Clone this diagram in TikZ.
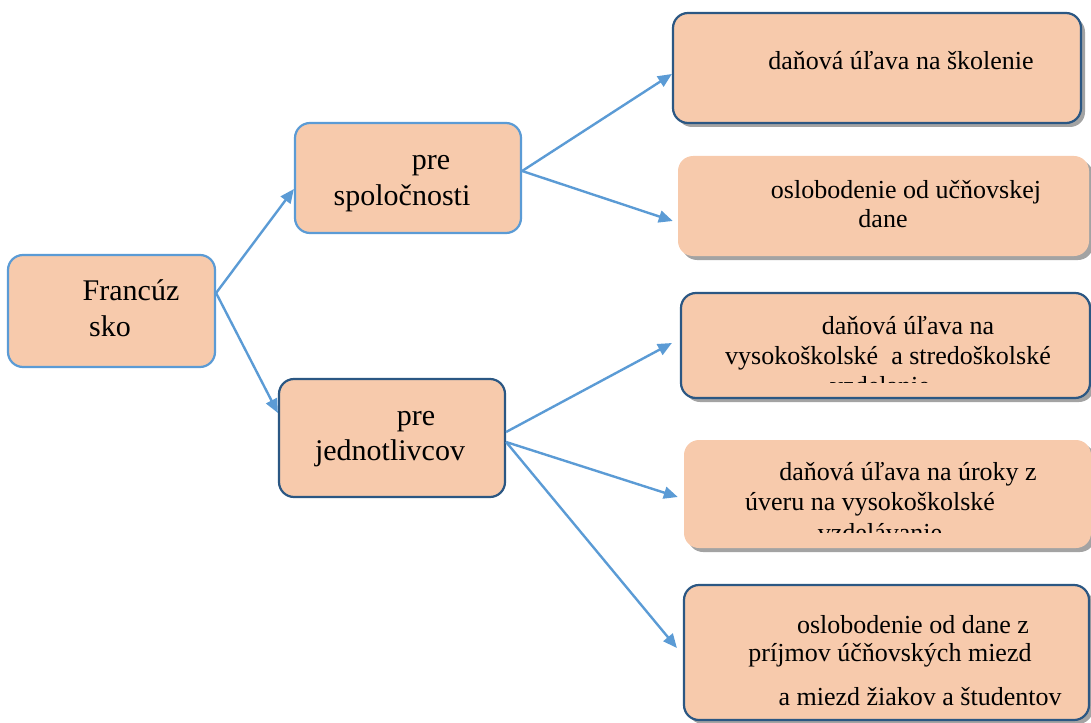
\documentclass[tikz,border=0pt]{standalone}
\usepackage{fontspec}
\setmainfont{Liberation Serif}
\usetikzlibrary{arrows.meta,shadows}
\definecolor{boxfill}{HTML}{F7CAAC}
\definecolor{lightedge}{HTML}{5B9BD5}
\definecolor{darkedge}{HTML}{2B5783}
\definecolor{arrowblue}{HTML}{5B9BD5}
\tikzset{
  box/.style={rectangle, rounded corners=15pt, fill=boxfill, inner sep=0pt},
  lightbox/.style={box, draw=lightedge, line width=2.2pt},
  darkbox/.style={box, draw=darkedge, line width=2.2pt},
  shadowed/.style={drop shadow={shadow xshift=4pt, shadow yshift=-4pt, fill=black!45, opacity=0.8}},
  bigtxt/.style={font=\fontsize{30}{36}\selectfont, inner sep=0pt, anchor=base},
  smalltxt/.style={font=\fontsize{26}{31}\selectfont, inner sep=0pt, anchor=base},
  conn/.style={draw=arrowblue, line width=2.4pt, -{Triangle[length=14pt,width=12pt]}},
}
\begin{document}
\begin{tikzpicture}[x=1pt,y=-1pt]
\useasboundingbox (0,0) rectangle (1091,722);

% left boxes
\node[lightbox, minimum width=207pt, minimum height=112pt] (f) at (111.5,311) {};
\node[lightbox, minimum width=226pt, minimum height=110pt] (ps) at (408,178) {};
\node[darkbox, minimum width=226pt, minimum height=118pt] (pj) at (392,438) {};

\node[bigtxt] (ft1) at (131,300) {Francúz};
\node[bigtxt] (ft2) at (110,336) {sko};
\node[bigtxt] (pst1) at (431,170) {pre};
\node[bigtxt] (pst2) at (402,205) {spoločnosti};
\node[bigtxt] (pjt1) at (416,425) {pre};
\node[bigtxt] (pjt2) at (390,460) {jednotlivcov};

% right boxes
\node[darkbox, shadowed, minimum width=408pt, minimum height=110pt] (b1) at (877,68) {};
\node[box, shadowed, minimum width=411pt, minimum height=100pt] (b2) at (883.5,206) {};
\node[darkbox, shadowed, minimum width=409pt, minimum height=105pt] (b3) at (885.5,345.5) {};
\node[box, shadowed, minimum width=407pt, minimum height=108pt] (b4) at (887.5,494) {};
\node[darkbox, shadowed, minimum width=405pt, minimum height=135pt] (b5) at (886.5,652.5) {};

\node[smalltxt] (b1t) at (901,70) {daňová úľava na školenie};
\node[smalltxt] (b2t1) at (906,198) {oslobodenie od učňovskej};
\node[smalltxt] (b2t2) at (883,227) {dane};
\node[smalltxt] (b3t1) at (908,334) {daňová úľava na};
\node[smalltxt] (b3t2) at (888,364) {vysokoškolské\ \ a stredoškolské};
\begin{scope}
  \clip (680,370) rectangle (1091,382);
  \node[smalltxt] (b3t3) at (880,394) {vzdelanie};
\end{scope}
\node[smalltxt] (b4t1) at (908,480) {daňová úľava na úroky z};
\node[smalltxt] (b4t2) at (870,510) {úveru na vysokoškolské};
\begin{scope}
  \clip (680,515) rectangle (1091,532);
  \node[smalltxt] (b4t3) at (880,541) {vzdelávanie};
\end{scope}
\node[smalltxt] (b5t1) at (913,633) {oslobodenie od dane z};
\node[smalltxt] (b5t2) at (890,661) {príjmov účňovských miezd};
\node[smalltxt] (b5t3) at (920,705) {a miezd žiakov a študentov};

% connectors
\draw[conn] ([yshift=18pt]f.east) -- ([yshift=-11pt]ps.west);
\draw[conn] ([yshift=18pt]f.east) -- ([yshift=25pt]pj.west);
\draw[conn] ([yshift=7pt]ps.east) -- ([yshift=-6pt]b1.west);
\draw[conn] ([yshift=7pt]ps.east) -- ([xshift=-5pt,yshift=-15pt]b2.west);
\draw[conn] ([yshift=6pt]pj.east) -- ([xshift=-8pt,yshift=2.5pt]b3.west);
\draw[conn] ([yshift=-4pt]pj.east) -- ([xshift=-6pt,yshift=-3pt]b4.west);
\draw[conn] ([yshift=-4pt]pj.east) -- ([xshift=-6pt,yshift=4.5pt]b5.west);
\end{tikzpicture}
\end{document}
